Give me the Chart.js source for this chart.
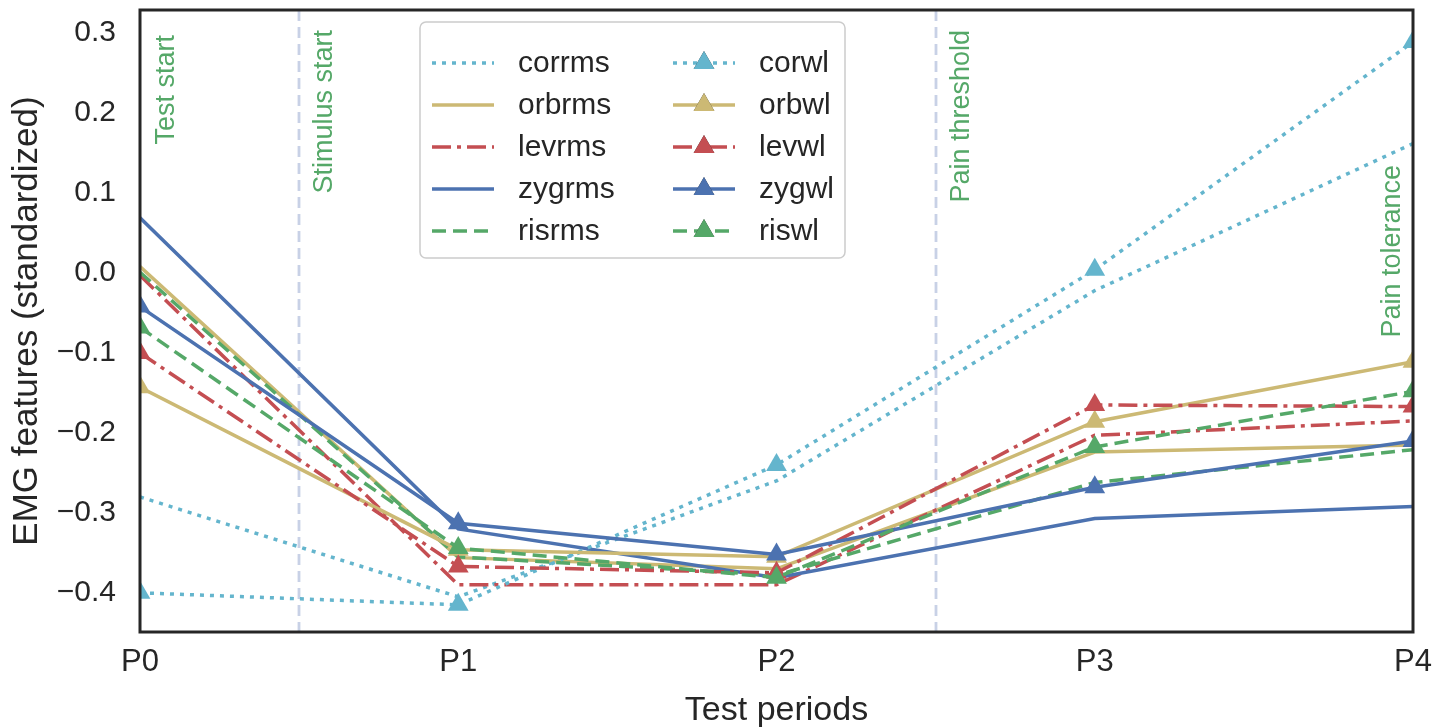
<!DOCTYPE html>
<html>
<head>
<meta charset="utf-8">
<script src="https://cdn.jsdelivr.net/npm/chart.js@4.4.1/dist/chart.umd.min.js"></script>
<style>
  html, body { margin: 0; padding: 0; background: #fff; }
  #wrap { width: 1452px; height: 728px; }
</style>
</head>
<body>
<div id="wrap"><canvas id="chart"></canvas></div>
<script>
// values
const categories = ["P0", "P1", "P2", "P3", "P4"];
const yTicks = [-0.4, -0.3, -0.2, -0.1, 0.0, 0.1, 0.2, 0.3];

const corrms = [-0.28, -0.405, -0.26, -0.022, 0.162];
const orbrms = [0.008, -0.356, -0.37, -0.224, -0.215];
const levrms = [-0.003, -0.39, -0.39, -0.203, -0.185];
const zygrms = [0.069, -0.32, -0.381, -0.307, -0.292];
const risrms = [0.001, -0.355, -0.378, -0.262, -0.221];
const corwl = [-0.40, -0.415, -0.24, 0.004, 0.289];
const orbwl = [-0.143, -0.346, -0.355, -0.186, -0.111];
const levwl = [-0.10, -0.367, -0.375, -0.165, -0.167];
const zygwl = [-0.042, -0.313, -0.352, -0.268, -0.21];
const riswl = [-0.068, -0.344, -0.381, -0.2175, -0.148];

const noteLabels = ["Test start", "Stimulus start", "Pain threshold", "Pain tolerance"];
const noteAt = [0, 0.5, 2.5, 4];
const markerLines = [0.5, 2.5];

const FONT = "'Liberation Sans', Arial, Helvetica, sans-serif";
const INK = "#262626";
const C = { cor: "#64b5cd", orb: "#ccb974", lev: "#c44e52", zyg: "#4c72b0", ris: "#55a868" };
const DOT = [4, 6], DASHDOT = [19, 6, 4, 6], DASH = [14, 7], SOLID = [];

function series(label, data, color, dash, tri) {
  return {
    label: label,
    data: data,
    borderColor: color,
    backgroundColor: color,
    borderWidth: 3.5,
    borderDash: dash,
    borderCapStyle: "butt",
    tension: 0,
    fill: false,
    clip: 0,
    pointStyle: "triangle",
    pointRadius: tri ? 12 : 0,
    pointHoverRadius: tri ? 12 : 0,
    pointBorderWidth: 0,
    pointBackgroundColor: color
  };
}

const datasets = [
  series("corrms", corrms, C.cor, DOT, false),
  series("orbrms", orbrms, C.orb, SOLID, false),
  series("levrms", levrms, C.lev, DASHDOT, false),
  series("zygrms", zygrms, C.zyg, SOLID, false),
  series("risrms", risrms, C.ris, DASH, false),
  series("corwl", corwl, C.cor, DOT, true),
  series("orbwl", orbwl, C.orb, SOLID, true),
  series("levwl", levwl, C.lev, DASHDOT, true),
  series("zygwl", zygwl, C.zyg, SOLID, true),
  series("riswl", riswl, C.ris, DASH, true)
];
// later series on top, like matplotlib
datasets.forEach(function (d, i) { d.order = datasets.length - i; });

const decor = {
  id: "decor",
  beforeDatasetsDraw(chart) {
    const ctx = chart.ctx, a = chart.chartArea, x = chart.scales.x;
    ctx.save();
    ctx.strokeStyle = "#c8d1e6";
    ctx.lineWidth = 2.8;
    ctx.setLineDash([11, 6]);
    markerLines.forEach(function (m) {
      const px = Math.round(x.getPixelForValue(m));
      ctx.beginPath();
      ctx.moveTo(px, a.top);
      ctx.lineTo(px, a.bottom);
      ctx.stroke();
    });
    ctx.restore();
  },
  afterDatasetsDraw(chart) {
    const ctx = chart.ctx, a = chart.chartArea, x = chart.scales.x;
    ctx.save();

    // vertical notes
    const dx = [27, 25, 26, -20];
    const top = [35, 30, 30, 165];
    ctx.fillStyle = C.ris;
    ctx.font = "27px " + FONT;
    ctx.textAlign = "right";
    ctx.textBaseline = "middle";
    noteLabels.forEach(function (t, i) {
      ctx.save();
      ctx.translate(x.getPixelForValue(noteAt[i]) + dx[i], top[i]);
      ctx.rotate(-Math.PI / 2);
      ctx.fillText(t, 0, 0);
      ctx.restore();
    });

    // frame
    ctx.strokeStyle = INK;
    ctx.lineWidth = 3;
    ctx.setLineDash([]);
    ctx.strokeRect(a.left, a.top, a.right - a.left, a.bottom - a.top);

    // legend box
    const bx = 420, by = 22, bw = 425, bh = 236, r = 6;
    ctx.beginPath();
    ctx.moveTo(bx + r, by);
    ctx.arcTo(bx + bw, by, bx + bw, by + bh, r);
    ctx.arcTo(bx + bw, by + bh, bx, by + bh, r);
    ctx.arcTo(bx, by + bh, bx, by, r);
    ctx.arcTo(bx, by, bx + bw, by, r);
    ctx.closePath();
    ctx.fillStyle = "rgba(255,255,255,0.85)";
    ctx.fill();
    ctx.strokeStyle = "#cccccc";
    ctx.lineWidth = 1.5;
    ctx.stroke();

    const rows = [63, 105, 147, 189, 231];
    const cols = [{ x0: 432, x1: 494, tx: 518 }, { x0: 673, x1: 735, tx: 759 }];
    ctx.font = "30px " + FONT;
    ctx.textAlign = "left";
    ctx.textBaseline = "middle";
    datasets.forEach(function (d, i) {
      const col = cols[Math.floor(i / 5)], ry = rows[i % 5];
      ctx.strokeStyle = d.borderColor;
      ctx.lineWidth = d.borderWidth;
      ctx.lineCap = "butt";
      ctx.setLineDash(d.borderDash);
      ctx.beginPath();
      ctx.moveTo(col.x0, ry);
      ctx.lineTo(col.x1, ry);
      ctx.stroke();
      ctx.setLineDash([]);
      if (d.pointRadius > 0) {
        Chart.helpers.drawPoint(ctx, { pointStyle: "triangle", radius: d.pointRadius, borderWidth: 0 }, (col.x0 + col.x1) / 2, ry);
        ctx.fillStyle = d.borderColor;
        ctx.fill();
      }
      ctx.fillStyle = INK;
      ctx.fillText(d.label, col.tx, ry + 1);
    });
    ctx.restore();
  }
};

new Chart(document.getElementById("chart"), {
  type: "line",
  data: { labels: categories, datasets: datasets },
  options: {
    responsive: true,
    maintainAspectRatio: false,
    animation: false,
    events: [],
    layout: { autoPadding: false, padding: { left: 0, right: 39, top: 10, bottom: 0 } },
    plugins: { legend: { display: false }, tooltip: { enabled: false } },
    scales: {
      x: {
        type: "category",
        offset: false,
        grid: { display: false, drawTicks: false },
        border: { display: false },
        ticks: { color: INK, font: { size: 31, family: FONT }, padding: 12, maxRotation: 0, autoSkip: false },
        title: { display: true, text: "Test periods", color: INK, font: { size: 34, family: FONT, lineHeight: 1 }, padding: { top: 0, bottom: 0 } },
        afterFit: function (s) {
          s.height = 96;
          s.paddingLeft = 0; s.paddingRight = 0;
        }
      },
      y: {
        min: -0.449,
        max: 0.329,
        grid: { display: false, drawTicks: false },
        border: { display: false },
        afterBuildTicks: function (s) { s.ticks = yTicks.map(function (v) { return { value: v }; }); },
        ticks: {
          color: INK,
          font: { size: 30, family: FONT },
          padding: 24,
          callback: function (v) { return (v < -1e-9 ? "\u2212" : "") + Math.abs(v).toFixed(1); }
        },
        title: { display: true, text: "EMG features (standardized)", color: INK, font: { size: 35, family: FONT, lineHeight: 1.2 }, padding: { top: 6, bottom: 0 } },
        afterFit: function (s) {
          s.width = 140;
          s.paddingTop = 0; s.paddingBottom = 0;
        }
      }
    }
  },
  plugins: [decor]
});
</script>
</body>
</html>
